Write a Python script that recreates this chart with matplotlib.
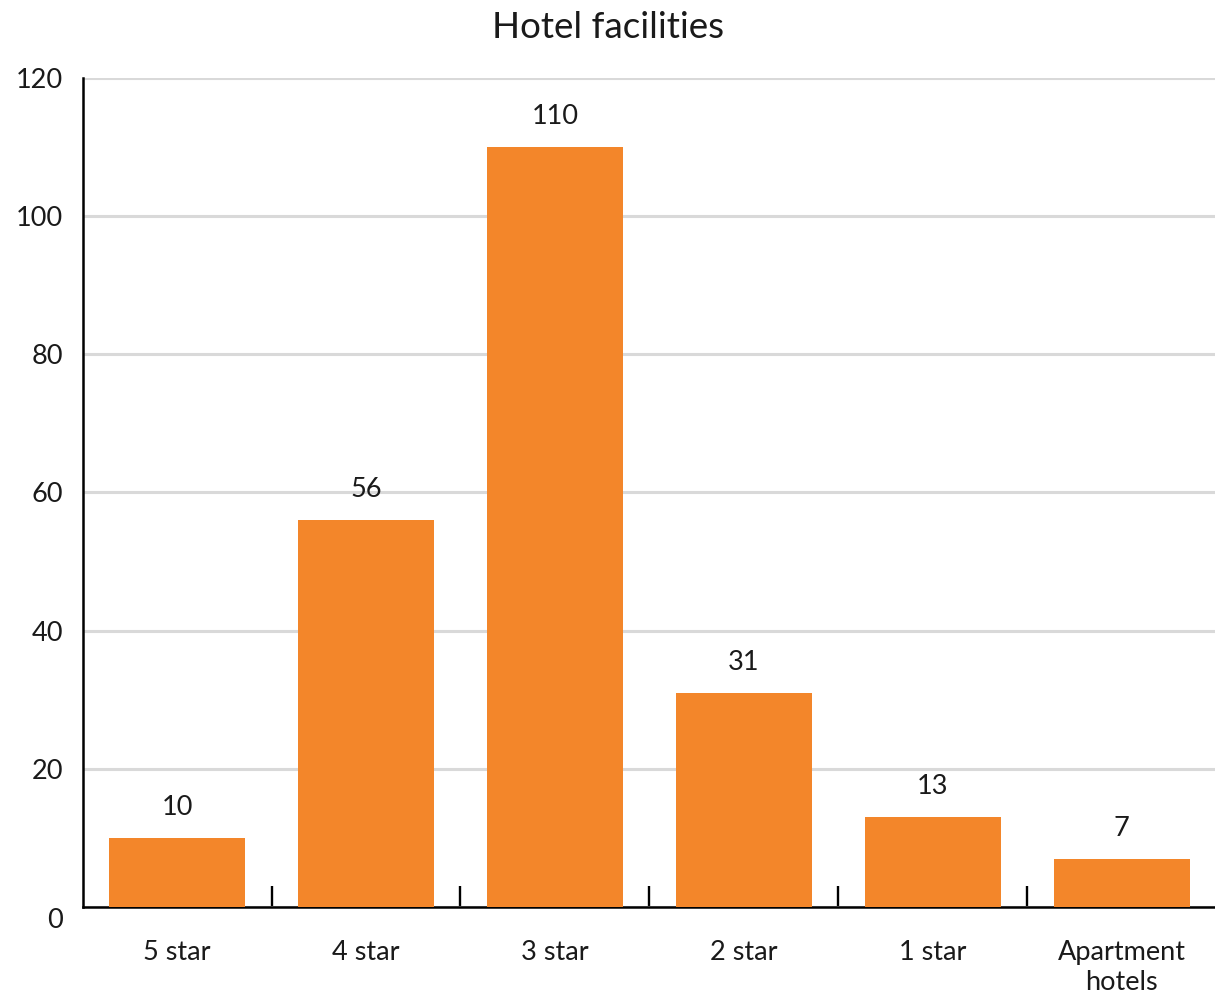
import matplotlib
matplotlib.use("Agg")
import matplotlib.pyplot as plt
from matplotlib.transforms import ScaledTranslation

categories = ["5 star", "4 star", "3 star", "2 star", "1 star", "Apartment\nhotels"]
counts = [10, 56, 110, 31, 13, 7]
y_ticks = [0, 20, 40, 60, 80, 100, 120]

plt.rcParams["font.family"] = ["Lato", "DejaVu Sans"]

fig = plt.figure(figsize=(12.15, 9.97), dpi=100)
ax = fig.add_axes([0.068, 0.0903, 0.933, 0.8315])

x = list(range(len(categories)))
ax.bar(x, counts, width=0.72, color="#F3862A", zorder=3)

for xi, v in zip(x, counts):
    ax.annotate(str(v), (xi, v), xytext=(0, 13), textcoords="offset points",
                ha="center", va="bottom", fontsize=19.5, color="#1a1a1a")

ax.set_xlim(-0.5, len(categories) - 0.5)
ax.set_ylim(0, 120)
ax.set_yticks(y_ticks)
ax.yaxis.grid(True, color="#d9d9d9", linewidth=2.2)
ax.set_axisbelow(True)

# category boundaries carry the tick marks, centres carry the labels
ax.set_xticks([i + 0.5 for i in range(len(categories) - 1)])
ax.set_xticklabels([])
ax.tick_params(axis="x", which="major", direction="in", length=15, width=1.7,
               color="black")
ax.set_xticks(x, minor=True)
ax.set_xticklabels(categories, minor=True, fontsize=19.5, color="#1a1a1a",
                   linespacing=1.25)
ax.tick_params(axis="x", which="minor", length=0, pad=24)

ax.tick_params(axis="y", length=0, pad=14, labelsize=19.5, labelcolor="#1a1a1a")

for side in ("top", "right"):
    ax.spines[side].set_visible(False)
for side in ("left", "bottom"):
    ax.spines[side].set_linewidth(1.8)
    ax.spines[side].set_color("black")

fig.canvas.draw()
zero_label = ax.get_yticklabels()[0]
zero_label.set_transform(zero_label.get_transform()
                         + ScaledTranslation(0, -0.11, fig.dpi_scale_trans))

fig.text(0.5, 0.972, "Hotel facilities", ha="center", va="center",
         fontsize=26.5, color="#1a1a1a")

fig.savefig("out.png", dpi=100)
